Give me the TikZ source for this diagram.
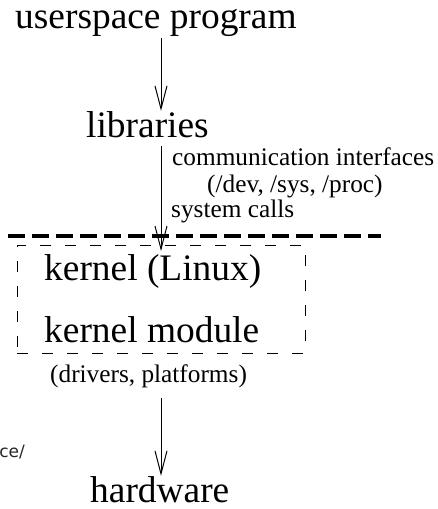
\documentclass[tikz,border=0pt]{standalone}
\usepackage{fontspec}
\setmainfont{Liberation Serif}
\newfontfamily\pathfont{DejaVu Sans}
\usetikzlibrary{arrows.meta}
\begin{document}
\begin{tikzpicture}[x=1pt,y=-1pt,
  big/.style={inner sep=0pt,font=\fontsize{37.4}{42}\selectfont},
  small/.style={inner sep=0pt,font=\fontsize{25.3}{29}\selectfont},
  flow/.style={line width=1pt,-{Straight Barb[length=23pt,width=12pt,line width=1pt]}},
  boundary/.style={line width=4.5pt,dash pattern=on 17pt off 7pt},
  kbox/.style={draw,line width=0.9pt,dash pattern=on 11pt off 14pt,inner sep=0pt}]
  \useasboundingbox (0,0) rectangle (437,509);

  % layer labels
  \node[big,anchor=base west] (user) at (15,28) {userspace program};
  \node[big,anchor=base west] (lib) at (86,137) {libraries};
  \node[small,anchor=base west] (comm) at (172,165) {communication interfaces};
  \node[small,anchor=base west] (paths) at (207,192) {(/dev, /sys, /proc)};
  \node[small,anchor=base west] (sys) at (171,217) {system calls};
  \node[big,anchor=base west] (kern) at (44,280) {kernel (Linux)};
  \node[big,anchor=base west] (kmod) at (44,342) {kernel module};
  \node[small,anchor=base west] (drv) at (50,382) {(drivers, platforms)};
  \node[big,anchor=base west] (hw) at (90,502) {hardware};
  \node[inner sep=0pt,anchor=base east,text=black!85,font=\pathfont\fontsize{17}{19}\selectfont] (frag) at (25,457) {ce/};

  % user/kernel boundary and kernel box
  \coordinate (bl) at (8,236);
  \coordinate (br) at (381,236);
  \draw[boundary] (bl) -- (br);
  \node[kbox,minimum width=288pt,minimum height=108pt,anchor=north west] (kb) at (17,245) {};

  % flow arrows along the axis x = 161
  \coordinate (a1) at (161,38);
  \coordinate (a2) at (161,146);
  \coordinate (a3) at (161,398);
  \coordinate (kin) at (161,251);
  \draw[flow] (a1) -- (a1 |- lib.north);
  \draw[flow] (a2) -- (kin);
  \draw[flow] (a3) -- (a3 |- hw.north);
\end{tikzpicture}
\end{document}
